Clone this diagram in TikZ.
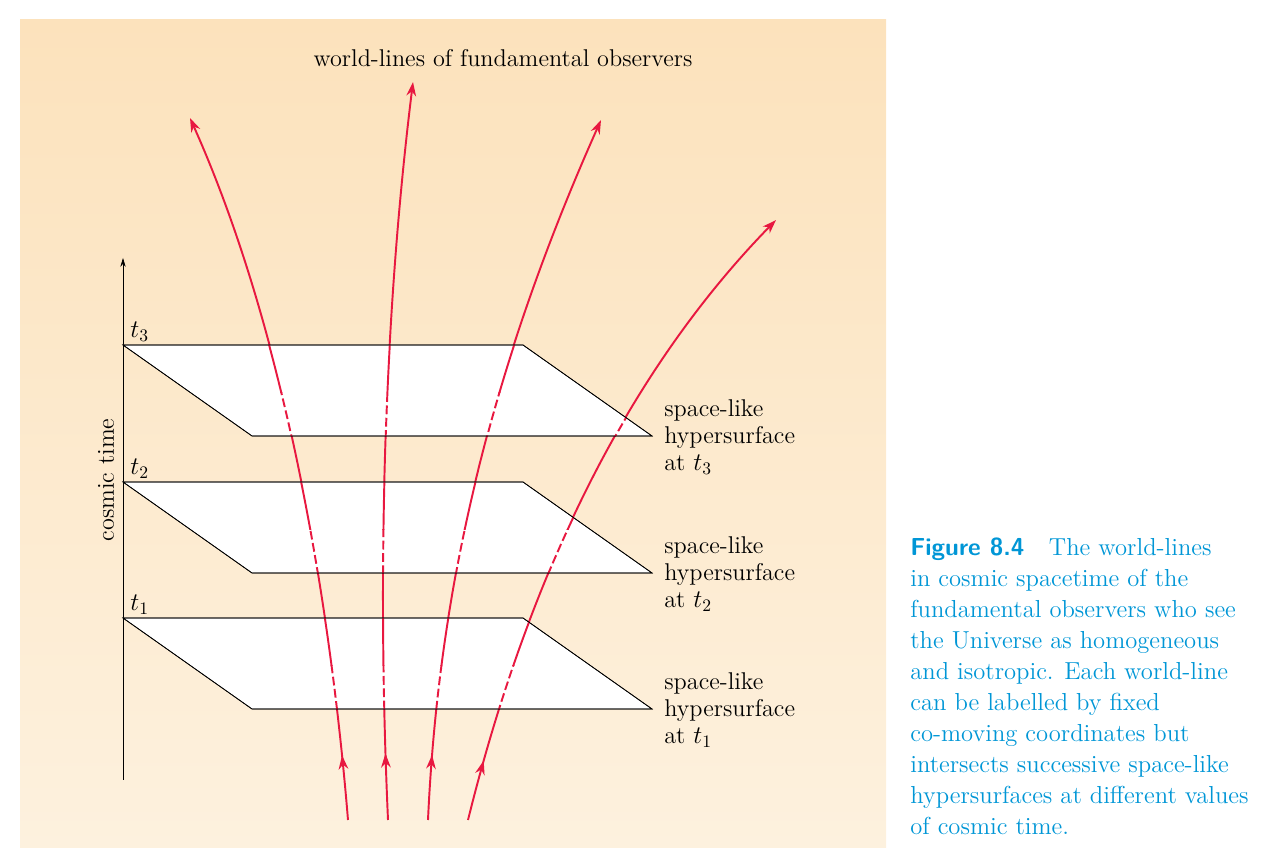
\documentclass[tikz,border=0pt]{standalone}
\usetikzlibrary{arrows.meta,decorations.markings}
\definecolor{wline}{RGB}{232,24,64}
\definecolor{bgtop}{RGB}{252,226,188}
\definecolor{bgbot}{RGB}{253,241,222}
\definecolor{capblue}{RGB}{0,150,214}
\newcommand\bigfont{\fontsize{13.8}{15.6}\selectfont}
\tikzset{
  worldline/.style={wline,line width=1.1pt,-{Stealth[length=8pt,width=5.5pt]},
    postaction={decorate,decoration={markings,
      mark=at position 0.09 with {\arrow{Stealth[length=8pt,width=5.5pt]}}}}},
  plane/.style={fill=white,draw=black,thin},
  lbl/.style={font=\bigfont,align=left,anchor=north west,inner sep=0pt},
}
\newcommand\LineA{(348,820) .. controls (330,600) and (285,330) .. (190,118)}
\newcommand\LineB{(388,820) .. controls (376,550) and (386,300) .. (413,82)}
\newcommand\LineC{(428,820) .. controls (438,600) and (485,380) .. (601,120)}
\newcommand\LineD{(468,820) .. controls (520,610) and (610,390) .. (776,220)}
\begin{document}
\begin{tikzpicture}[x=0.02cm,y=-0.02cm]
\useasboundingbox (0,0) rectangle (1272,857);
\shade[top color=bgtop,bottom color=bgbot] (20,20) rectangle (886,848);
% cosmic time axis
\draw[-{Stealth[length=5pt,width=3pt]}] (123,780) coordinate (ax0) -- (123,258) coordinate (ax1);
\node[rotate=90,font=\bigfont] (ctime) at (106,480) {cosmic time};
\node[font=\bigfont] (title) at (503,58) {world-lines of fundamental observers};
% world-lines
\draw[worldline] \LineA;
\draw[worldline] \LineB;
\draw[worldline] \LineC;
\draw[worldline] \LineD;
% hypersurfaces
\foreach \ty/\i in {345/3,482/2,618/1}{
  \draw[plane] (123,\ty) coordinate (p\i) -- (523,\ty) -- (652,\ty+91) -- (252,\ty+91) -- cycle;
  \node[anchor=south west,inner sep=1pt,xshift=3pt,yshift=1pt] (t\i) at (p\i) {\bigfont $t_\i$};
  \node[lbl] (h\i) at (664,\ty+54) {space-like\\hypersurface\\at $t_\i$};
  \begin{scope}
    \clip (123,\ty) -- (523,\ty) -- (652,\ty+91) -- (252,\ty+91) -- cycle;
    \clip (0,\ty) rectangle (1272,\ty+48);
    \draw[wline,line width=1.1pt] \LineA; \draw[wline,line width=1.1pt] \LineB;
    \draw[wline,line width=1.1pt] \LineC; \draw[wline,line width=1.1pt] \LineD;
  \end{scope}
  \begin{scope}
    \clip (123,\ty) -- (523,\ty) -- (652,\ty+91) -- (252,\ty+91) -- cycle;
    \clip (0,\ty+48) rectangle (1272,\ty+91);
    \draw[wline,line width=1.1pt,dash pattern=on 5pt off 2pt] \LineA; \draw[wline,line width=1.1pt,dash pattern=on 5pt off 2pt] \LineB;
    \draw[wline,line width=1.1pt,dash pattern=on 5pt off 2pt] \LineC; \draw[wline,line width=1.1pt,dash pattern=on 5pt off 2pt] \LineD;
  \end{scope}
  \draw (123,\ty) -- (523,\ty) -- (652,\ty+91) -- (252,\ty+91) -- cycle;
}
% caption
\node[lbl,align=left,text=capblue,font=\fontsize{14}{17.6}\selectfont] (caption) at (910,538)
  {{\sffamily\bfseries Figure 8.4}\quad The world-lines\\ in cosmic spacetime of the\\ fundamental observers who see\\ the Universe as homogeneous\\ and isotropic. Each world-line\\ can be labelled by fixed\\ co-moving coordinates but\\ intersects successive space-like\\ hypersurfaces at different values\\ of cosmic time.};
\end{tikzpicture}
\end{document}
